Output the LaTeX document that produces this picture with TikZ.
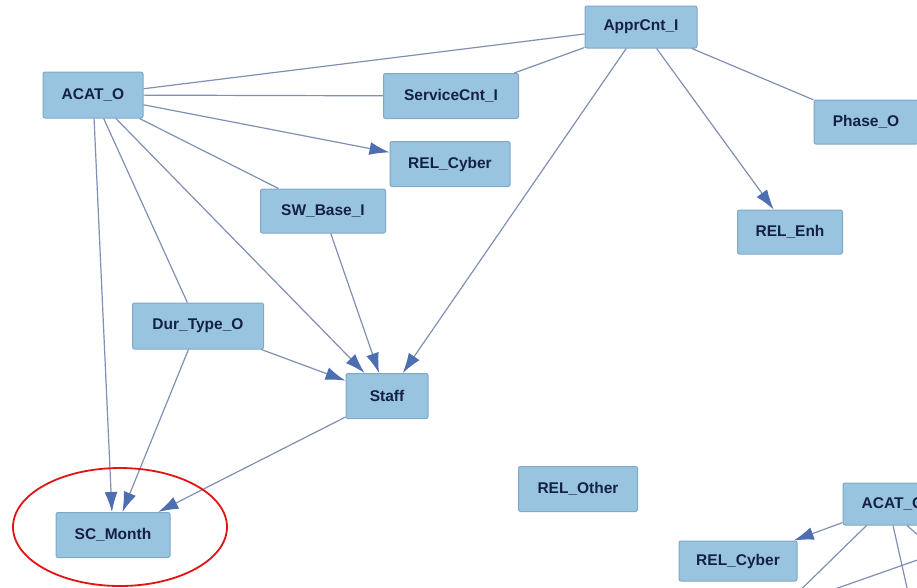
\documentclass[tikz,border=0pt]{standalone}
\usepackage{fontspec}
\setmainfont{Liberation Sans}
\usetikzlibrary{arrows.meta}
\definecolor{boxfill}{RGB}{152,196,224}
\definecolor{boxline}{RGB}{128,168,200}
\definecolor{boxtext}{RGB}{20,32,72}
\definecolor{edgecol}{RGB}{128,144,180}
\definecolor{tipcol}{RGB}{78,110,178}
\definecolor{ringcol}{RGB}{226,20,20}
\tikzset{
  var/.style={draw=boxline, line width=1pt, fill=boxfill, rounded corners=2pt,
    inner sep=0pt, text=boxtext, font=\fontsize{15.5}{18}\selectfont\bfseries},
  link/.style={draw=edgecol, line width=1.2pt},
  dep/.style={link, -{Latex[length=20pt,width=13pt,fill=tipcol,color=tipcol]}},
  ring/.style={draw=ringcol, line width=1.8pt}
}
\begin{document}
\begin{tikzpicture}[x=1pt,y=-1pt]
\useasboundingbox (0,0) rectangle (917,587);
\clip (0,0) rectangle (917,587);
\fill[white] (0,0) rectangle (917,587);

% variable boxes
\node[var, minimum width=112pt, minimum height=42pt] (appr) at (641,27) {ApprCnt\_I};
\node[var, minimum width=100pt, minimum height=46pt] (acat) at (93,95) {ACAT\_O};
\node[var, minimum width=135pt, minimum height=45pt] (svc) at (451,96) {ServiceCnt\_I};
\node[var, minimum width=120pt, minimum height=45pt] (cyber) at (450,164) {REL\_Cyber};
\node[var, minimum width=104pt, minimum height=44pt] (phase) at (866,122) {Phase\_O};
\node[var, minimum width=125pt, minimum height=44pt] (swb) at (323,211) {SW\_Base\_I};
\node[var, minimum width=105pt, minimum height=44pt] (enh) at (790,232) {REL\_Enh};
\node[var, minimum width=131pt, minimum height=46pt] (dur) at (198,326) {Dur\_Type\_O};
\node[var, minimum width=82pt, minimum height=45pt] (staff) at (387,396) {Staff};
\node[var, minimum width=119pt, minimum height=45pt] (other) at (578,489) {REL\_Other};
\node[var, minimum width=114pt, minimum height=45pt] (month) at (113,535) {SC\_Month};
\node[var, minimum width=100pt, minimum height=42pt] (acatb) at (893,504) {ACAT\_O};
\node[var, minimum width=118pt, minimum height=40pt] (cyberb) at (738,561) {REL\_Cyber};

% ends of links leaving the frame
\coordinate (offa) at (780,610);
\coordinate (offb) at (912,610);
\coordinate (offc) at (945,559);
\coordinate (offd) at (960,545);
\coordinate (offe) at (815,596);

% links
\draw[link] (acat) -- (appr);
\draw[link] (acat) -- (svc);
\draw[link] (appr) -- (svc);
\draw[link] (appr) -- (phase);
\draw[link] (acat) -- (swb);
\draw[link] (acat) -- (dur);
\draw[dep] (acat) -- (cyber);
\draw[dep] (appr) -- (enh);
\draw[dep] (appr) -- (staff);
\draw[dep] (acat) -- (staff);
\draw[dep] (swb) -- (staff);
\draw[dep] (dur) -- (staff);
\draw[dep] (acat) -- (month);
\draw[dep] (dur) -- (month);
\draw[dep] (staff) -- (month);
\draw[dep] (acatb) -- (cyberb);
\draw[link] (acatb.south west) ++(24,0) coordinate (acbs) -- (offa);
\draw[link] (acatb.south) -- (offb);
\draw[link] (acatb.south) ++(14,0) coordinate (acbt) -- (offc);
\draw[link] (offd) -- (offe);

% highlight ring
\draw[ring] (120,527) ellipse [x radius=107, y radius=59];
\end{tikzpicture}
\end{document}
